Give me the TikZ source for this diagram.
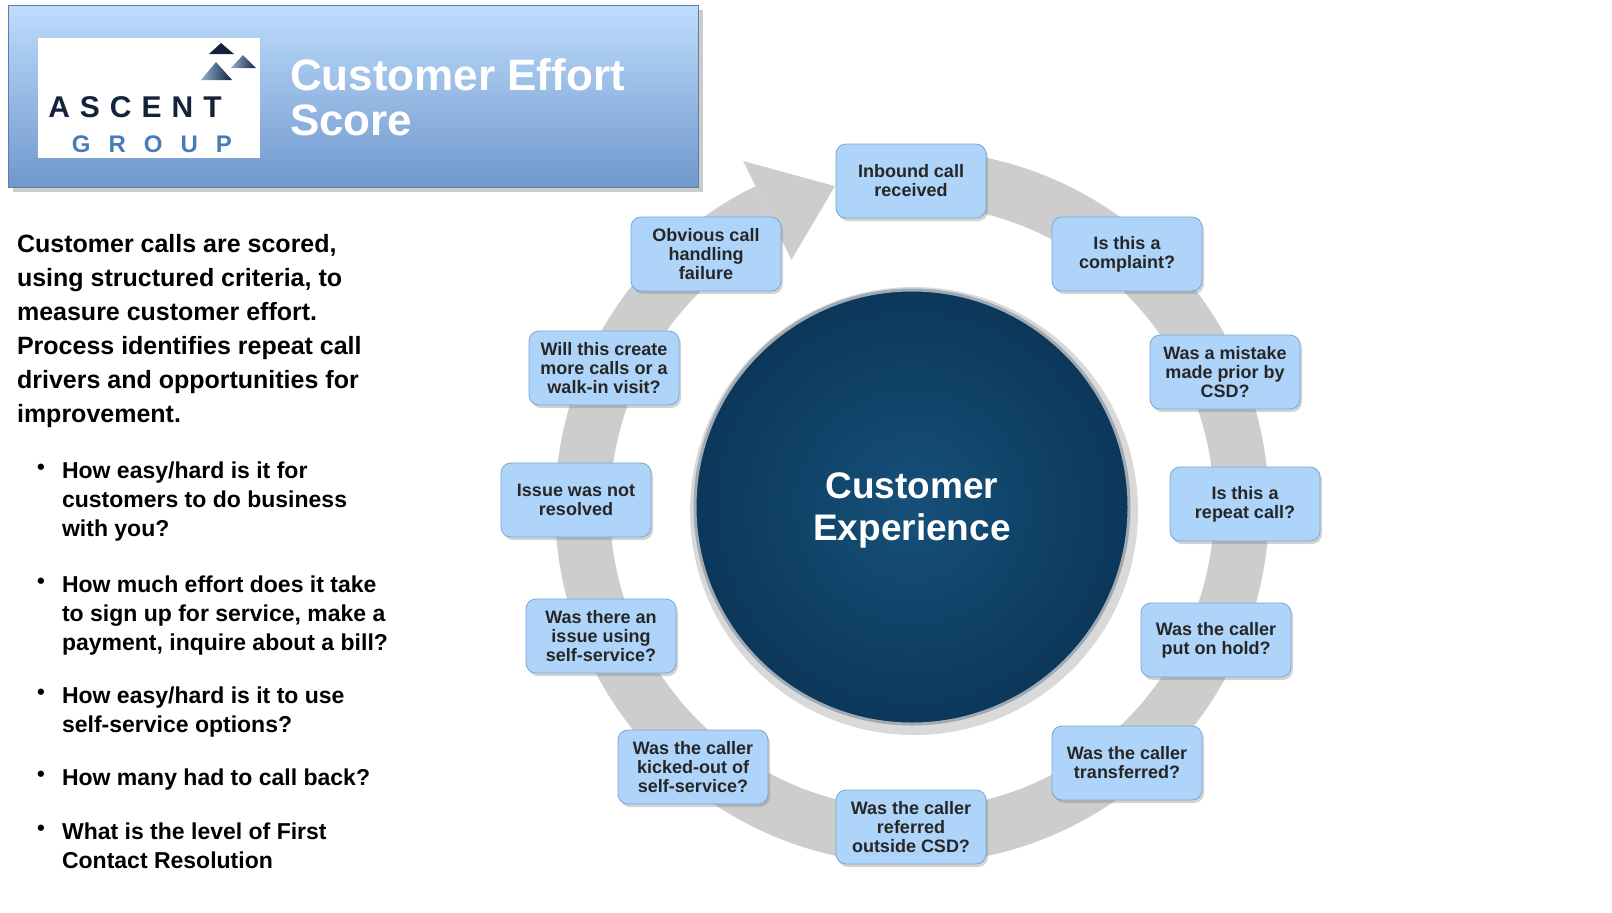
\documentclass[tikz,border=0pt]{standalone}
\usepackage{fontspec}
\setmainfont{Liberation Sans}
\usetikzlibrary{shadows, positioning, calc}
\definecolor{boxblue}{RGB}{174,212,250}
\definecolor{boxedge}{RGB}{120,165,215}
\definecolor{navy}{RGB}{14,62,100}
\definecolor{logonavy}{RGB}{20,35,60}
\definecolor{logoblue}{RGB}{70,125,180}
\definecolor{ringgray}{RGB}{205,205,205}

\begin{document}
\begin{tikzpicture}[
        x=0.5pt, y=-0.5pt,
        question/.style={draw=boxedge, fill=boxblue, rounded corners=5pt, minimum width=75pt,
            minimum height=37pt, align=center, font=\bfseries\fontsize{9}{9.5}\selectfont,
            text=black!85, drop shadow={shadow xshift=1pt, shadow yshift=-1.5pt, opacity=.35}},
        bullet/.style={anchor=north west, align=left,
            font=\bfseries\fontsize{11.5}{14.5}\selectfont},
        ring/.style={fill=ringgray}
    ]
    \useasboundingbox (0,0) rectangle (1612,912);

    % header
    \shade[top color={rgb,255:red,190;green,220;blue,252}, bottom color={rgb,255:red,112;green,152;blue,205},
        draw={rgb,255:red,95;green,125;blue,165}, drop shadow={opacity=.4}] (8,5) rectangle (698,187);
    \fill[white] (38,38) rectangle (260,158);
    \fill[logonavy] (221,43) -- (209,54) -- (234,54) -- cycle;
    \shade[left color=logoblue!60, right color=logonavy] (243,55) -- (231,68) -- (256,68) -- cycle;
    \shade[left color=logoblue!60, right color=logonavy] (216,62) -- (201,80) -- (232,80) -- cycle;
    \node[text=logonavy, font=\bfseries\fontsize{15}{15}\selectfont] (ascent) at (135,107)
        {A\hspace{5pt}S\hspace{5pt}C\hspace{5pt}E\hspace{5pt}N\hspace{5pt}T};
    \node[text=logoblue, font=\bfseries\fontsize{12}{12}\selectfont] (group) at (152,144)
        {G\hspace{9pt}R\hspace{9pt}O\hspace{9pt}U\hspace{9pt}P};
    \node[anchor=west, align=left, text=white, font=\bfseries\fontsize{22}{22.5}\selectfont] (title)
        at (283,97) {Customer Effort\\Score};

    % left text
    \node[anchor=north west, align=left, font=\bfseries\fontsize{12.5}{17}\selectfont]
        (intro) at (10,227) {Customer calls are scored,\\using structured criteria, to\\measure customer effort.\\
        Process identifies repeat call\\drivers and opportunities for\\improvement.};
    \foreach \Y/\Text [count=\i] in {
            455/{How easy/hard is it for\\customers to do business\\with you?},
            569/{How much effort does it take\\to sign up for service, make a\\payment, inquire about a bill?},
            680/{How easy/hard is it to use\\self-service options?},
            762/{How many had to call back?},
            816/{What is the level of First\\Contact Resolution}} {
        \node[bullet] (q\i) at (55,\Y) {\Text};
        \node[font=\bfseries\fontsize{11}{11}\selectfont] (dot\i) at (41,\Y+14) {\textbullet};
    }

    % ring with arrow (y axis points down, so angles are mirrored)
    \coordinate (o) at (912,507);
    \fill[ring] (o) ++(-100:357) arc[start angle=-100, end angle=244, radius=357]
        -- ++(64:55) arc[start angle=244, end angle=-100, radius=302] -- cycle;
    \fill[ring] ($(o)+(-116:385)$) coordinate (h1) -- ($(o)+(-103.5:330)$) coordinate (tip)
        -- ($(o)+(-116:275)$) coordinate (h2) -- cycle;

    % centre
    \fill[black, opacity=.15] (914,511) circle[radius=224];
    \shade[inner color={rgb,255:red,22;green,80;blue,122}, outer color={rgb,255:red,12;green,55;blue,90},
        draw={rgb,255:red,160;green,170;blue,180}, line width=1.5pt] (o) circle[radius=217];
    \node[align=center, text=white, font=\bfseries\fontsize{18.5}{21}\selectfont] (centre) at (912,510)
        {Customer\\Experience};

    % questions
    \foreach \X/\Y/\Text [count=\i] in {
            911/181/{Inbound call\\received},
            1127/254/{Is this a\\complaint?},
            1225/372/{Was a mistake\\made prior by\\CSD?},
            1245/504/{Is this a\\repeat call?},
            1216/640/{Was the caller\\put on hold?},
            1127/763/{Was the caller\\transferred?},
            911/827/{Was the caller\\referred\\outside CSD?},
            693/767/{Was the caller\\kicked-out of\\self-service?},
            601/636/{Was there an\\issue using\\self-service?},
            576/500/{Issue was not\\resolved},
            604/368/{Will this create\\more calls or a\\walk-in visit?},
            706/254/{Obvious call\\handling\\failure}}
        \node[question] (s\i) at (\X,\Y) {\Text};
\end{tikzpicture}
\end{document}
